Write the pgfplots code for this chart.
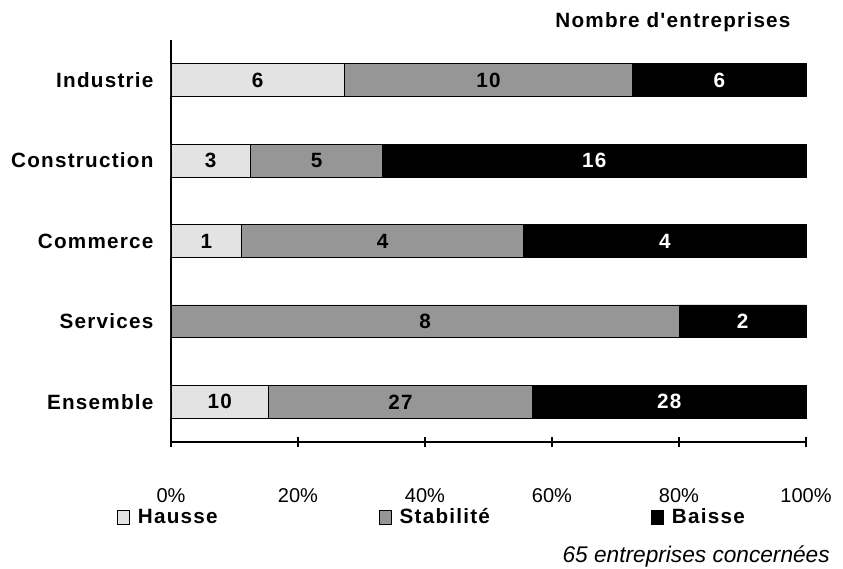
\documentclass[border=0pt]{standalone}
\usepackage{pgfplots}
\pgfplotsset{compat=1.18}
\usepackage{pgfplotstable}
\usepackage{fontspec}
\setmainfont{Liberation Sans}
\newfontfamily\lbl[LetterSpace=6]{Liberation Sans}
\definecolor{hausse}{HTML}{E3E3E3}
\definecolor{stab}{HTML}{969696}
\definecolor{baisse}{HTML}{000000}

\pgfplotstableread{
pos H S B nH nS nB
0 15.385 41.538 43.077 10 27 28
1 0 80 20 0 8 2
2 11.111 44.444 44.445 1 4 4
3 12.5 20.833 66.667 3 5 16
4 27.273 45.455 27.272 6 10 6
}\data

\begin{document}
\begin{tikzpicture}
\begin{axis}[
  name=ax,
  scale only axis,
  clip=false,
  width=476.25pt, height=301.5pt,
  xbar stacked,
  bar width=0.41,
  xmin=0, xmax=100,
  ymin=-0.5, ymax=4.5,
  axis x line*=bottom, axis y line*=left,
  axis line style={line width=1.1pt, black},
  every tick/.style={line width=1.1pt, black},
  xtick={0,20,...,100},
  xticklabels={0\%,20\%,40\%,60\%,80\%,100\%},
  x tick label style={font=\fontsize{15}{18}\selectfont, anchor=center, yshift=-36pt},
  xtick align=center,
  major tick length=8pt,
  ytick={0,1,2,3,4},
  yticklabels={Ensemble,Services,Commerce,Construction,Industrie},
  y tick label style={font=\lbl\bfseries\fontsize{15.5}{18}\selectfont, anchor=east, inner sep=0pt, xshift=-13pt},
  extra y ticks={-0.5,0.5,1.5,2.5,3.5,4.5},
  extra y tick labels={},
  extra y tick style={ytick align=outside, major tick length=6pt},
  ytick style={draw=none},
  point meta=explicit symbolic,
  nodes near coords={\ifnum\pgfplotspointmeta=0\relax\else\pgfplotspointmeta\fi},
  every node near coord/.append style={anchor=center, font=\lbl\bfseries\fontsize{15.5}{18}\selectfont},
  legend columns=3,
  legend image code/.code={\draw[#1, draw=black, line width=0.5pt] (0pt,-5.25pt) rectangle (9pt,5.25pt);},
  legend style={draw=none, fill=none, at={(rel axis cs:-0.085,-0.1866)}, anchor=west, inner sep=0pt,
    font=\lbl\bfseries\fontsize{15.5}{18}\selectfont,
    /tikz/every odd column/.append style={column sep=4pt},
    /tikz/every even column/.append style={column sep=119pt},
    nodes={inner sep=2pt}},
]
\addplot[fill=hausse, draw=black, line width=0.6pt, nodes near coords style={text=black}] table[x=H, y=pos, meta=nH] {\data};
\addplot[fill=stab, draw=black, line width=0.6pt, nodes near coords style={text=black}] table[x=S, y=pos, meta=nS] {\data};
\addplot[fill=baisse, draw=black, line width=0.6pt, nodes near coords style={text=white}] table[x=B, y=pos, meta=nB] {\data};
\legend{Hausse,Stabilité,Baisse}
\node[anchor=east, font=\lbl\bfseries\fontsize{15.5}{18}\selectfont] at (rel axis cs:0.983,1.045) {Nombre d'entreprises};
\node[anchor=east, font=\itshape\fontsize{17}{20}\selectfont, inner sep=0pt] at (rel axis cs:1.0378,-0.285) {65 entreprises concernées};
\end{axis}
\pgfresetboundingbox
\path (-128.25pt,-94.5pt) rectangle (504pt,331.5pt);
\end{tikzpicture}
\end{document}
